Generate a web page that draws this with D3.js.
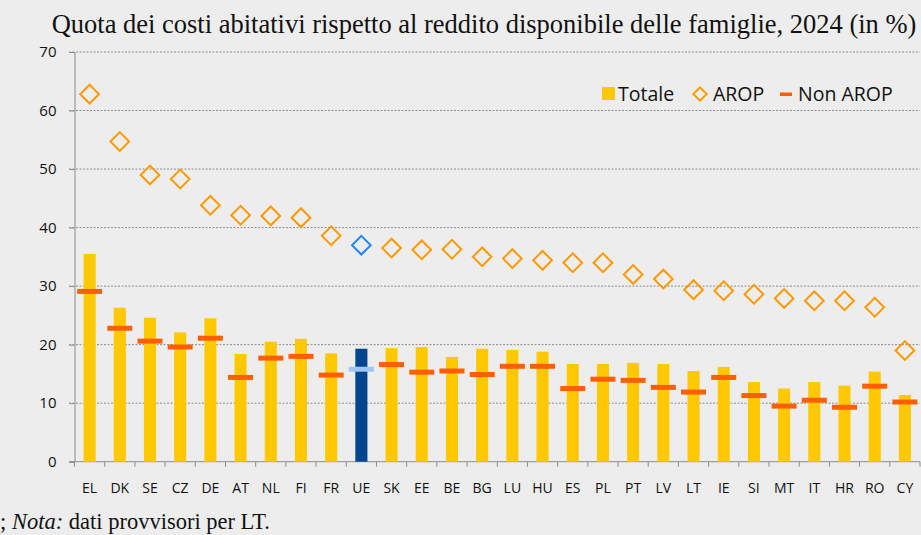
<!DOCTYPE html>
<html>
<head>
<meta charset="utf-8">
<script src="https://cdn.jsdelivr.net/npm/d3@7"></script>
<style>
  html, body { margin: 0; padding: 0; background: #ededed; }
  svg { display: block; }
</style>
</head>
<body>
<div id="chart"></div>
<script>
// paesi (UE = media)
const countries = ["EL", "DK", "SE", "CZ", "DE", "AT", "NL", "FI", "FR", "UE", "SK", "EE", "BE", "BG",
    "LU", "HU", "ES", "PL", "PT", "LV", "LT", "IE", "SI", "MT", "IT", "HR", "RO", "CY"];
const totale = [35.5, 26.3, 24.6, 22.1, 24.5, 18.4, 20.5, 21.0, 18.5, 19.3, 19.4, 19.6, 17.9, 19.3,
    19.1, 18.8, 16.7, 16.7, 16.9, 16.7, 15.5, 16.2, 13.6, 12.5, 13.6, 13.0, 15.4, 11.4];
const arop = [62.8, 54.7, 49.0, 48.3, 43.8, 42.1, 42.0, 41.7, 38.6, 37.0, 36.5, 36.2, 36.3, 35.0,
    34.7, 34.4, 34.0, 34.0, 32.0, 31.2, 29.4, 29.2, 28.6, 27.9, 27.5, 27.5, 26.4, 19.0];
const nonArop = [29.1, 22.8, 20.6, 19.6, 21.1, 14.4, 17.7, 18.0, 14.8, 15.8, 16.6, 15.3, 15.5, 14.9,
    16.3, 16.3, 12.5, 14.1, 13.9, 12.7, 11.9, 14.4, 11.3, 9.5, 10.5, 9.3, 12.9, 10.2];
const yTicks = [0, 10, 20, 30, 40, 50, 60, 70];
const seriesNames = ["Totale", "AROP", "Non AROP"];

const data = countries.map((c, i) => ({ c: c, tot: totale[i], arop: arop[i], non: nonArop[i] }));

const svg = d3.select("#chart")
    .append("svg")
    .attr("width", 921)
    .attr("height", 535);

const x = d3.scaleBand()
    .domain(countries)
    .range([74.5, 920])
    .paddingInner(0.6)
    .paddingOuter(0.3);

const y = d3.scaleLinear()
    .domain([0, 70])
    .range([461.7, 52]);

const grid = "#8c8c8c";

// gridlines
svg.append("g")
    .selectAll("line")
    .data(yTicks.filter(d => d > 0))
    .join("line")
    .attr("x1", 69).attr("x2", 920)
    .attr("y1", d => y(d)).attr("y2", d => y(d))
    .attr("stroke", grid)
    .attr("stroke-width", 1)
    .attr("stroke-dasharray", "2,1.5");

// y axis
const yAxis = svg.append("g")
    .attr("transform", "translate(74.5,0)")
    .call(d3.axisLeft(y).tickValues(yTicks).tickSize(5).tickPadding(13));
yAxis.select(".domain").attr("stroke", grid);
yAxis.selectAll(".tick line").attr("stroke", grid);
yAxis.selectAll("text")
    .style("font-family", "'Open Sans', sans-serif")
    .style("font-size", "15px")
    .attr("fill", "#111");

// x axis
const xAxis = svg.append("g")
    .attr("transform", "translate(0," + y(0) + ")")
    .call(d3.axisBottom(x).tickSize(0).tickPadding(21));
xAxis.select(".domain").remove();
xAxis.selectAll("text")
    .style("font-family", "'Open Sans', sans-serif")
    .style("font-size", "14px")
    .attr("fill", "#111");
svg.append("line")
    .attr("x1", 69).attr("x2", 920)
    .attr("y1", y(0)).attr("y2", y(0))
    .attr("stroke", grid);
svg.append("g")
    .selectAll("line")
    .data(d3.range(countries.length + 1))
    .join("line")
    .attr("x1", i => x.range()[0] + i * x.step())
    .attr("x2", i => x.range()[0] + i * x.step())
    .attr("y1", y(0)).attr("y2", y(0) + 5)
    .attr("stroke", grid);

// bars
svg.append("g")
    .selectAll("rect")
    .data(data)
    .join("rect")
    .attr("x", d => x(d.c))
    .attr("y", d => y(d.tot))
    .attr("width", x.bandwidth())
    .attr("height", d => y(0) - y(d.tot))
    .attr("fill", d => d.c == "UE" ? "#00458f" : "#ffc800");

// non AROP dashes
svg.append("g")
    .selectAll("rect")
    .data(data)
    .join("rect")
    .attr("x", d => x(d.c) + x.bandwidth() / 2 - 12.5)
    .attr("y", d => y(d.non) - 2.5)
    .attr("width", 25)
    .attr("height", 5)
    .attr("fill", d => d.c == "UE" ? "#9dc6f2" : "#ff5f00");

// AROP diamonds
const diamond = d3.symbol().type(d3.symbolSquare).size(175);
svg.append("g")
    .selectAll("path")
    .data(data)
    .join("path")
    .attr("d", diamond)
    .attr("transform", d => "translate(" + (x(d.c) + x.bandwidth() / 2) + "," + y(d.arop) + ") rotate(45)")
    .attr("fill", "none")
    .attr("stroke", d => d.c == "UE" ? "#1e88f5" : "#ff9900")
    .attr("stroke-width", 2);

// title
svg.append("text")
    .attr("x", 484).attr("y", 33)
    .attr("text-anchor", "middle")
    .style("font-family", "'Liberation Serif', 'Times New Roman', serif")
    .style("font-size", "26.5px")
    .attr("fill", "#111")
    .text("Quota dei costi abitativi rispetto al reddito disponibile delle famiglie, 2024 (in %)");

// legend
const legend = svg.append("g").style("font-family", "'Open Sans', sans-serif").style("font-size", "19.5px");
legend.append("rect").attr("x", 602).attr("y", 87).attr("width", 13).attr("height", 13).attr("fill", "#ffc800");
legend.append("text").attr("x", 618).attr("y", 101).attr("fill", "#111").text(seriesNames[0]);
legend.append("path").attr("d", d3.symbol().type(d3.symbolSquare).size(90))
    .attr("transform", "translate(700,94) rotate(45)")
    .attr("fill", "none").attr("stroke", "#ff9900").attr("stroke-width", 2);
legend.append("text").attr("x", 713).attr("y", 101).attr("fill", "#111").text(seriesNames[1]);
legend.append("rect").attr("x", 780).attr("y", 92.5).attr("width", 12).attr("height", 3.5).attr("fill", "#ff5f00");
legend.append("text").attr("x", 798).attr("y", 101).attr("fill", "#111").text(seriesNames[2]);

// nota
const nota = svg.append("text")
    .attr("x", 0).attr("y", 529)
    .style("font-family", "'Liberation Serif', 'Times New Roman', serif")
    .style("font-size", "22.5px")
    .attr("fill", "#111");
nota.append("tspan").text("; ");
nota.append("tspan").style("font-style", "italic").text("Nota:");
nota.append("tspan").text("  dati provvisori per LT.");
</script>
</body>
</html>
